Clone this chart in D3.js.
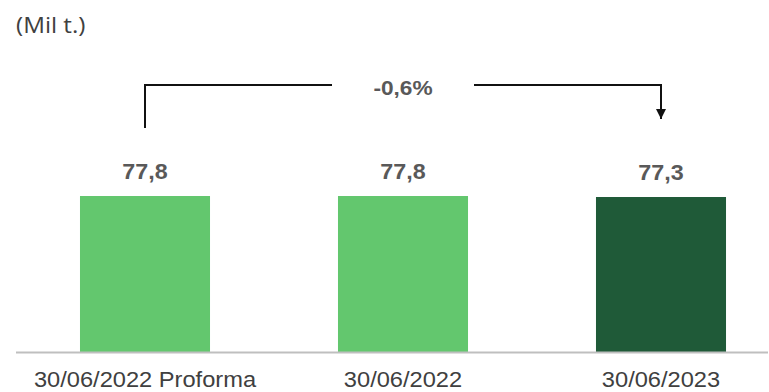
<!DOCTYPE html>
<html>
<head>
<meta charset="utf-8">
<script src="https://cdn.jsdelivr.net/npm/d3@7"></script>
<style>
  html, body { margin: 0; padding: 0; background: #fff; }
  svg { display: block; }
</style>
</head>
<body>
<svg id="chart" width="769" height="392"></svg>
<script>
// Stock volume by reference date (thousand tonnes)
const categories = ["30/06/2022 Proforma", "30/06/2022", "30/06/2023"];
const values = [77.8, 77.8, 77.3];
const valueLabels = ["77,8", "77,8", "77,3"];
const barColors = ["#63c76e", "#63c76e", "#1f5a38"];
const unitLabel = "(Mil t.)";
const changeLabel = "-0,6%";

const svg = d3.select("#chart");

const baseline = 352;
const x = d3.scaleBand()
  .domain(categories)
  .range([16, 790])
  .paddingInner(0.496)
  .paddingOuter(0.248);

const y = d3.scaleLinear()
  .domain([0, 100])
  .range([baseline, baseline - 200.5]);

const textGray = "#595959";

// Unit caption
svg.append("text")
  .attr("transform", "translate(16,33) scale(1.1,1)")
  .attr("font-family", "'Open Sans', sans-serif")
  .attr("font-size", 22)
  .attr("fill", "#404040")
  .text(unitLabel);

// Bars
svg.selectAll("rect.bar")
  .data(categories)
  .join("rect")
  .attr("class", "bar")
  .attr("x", d => x(d))
  .attr("width", x.bandwidth())
  .attr("y", (d, i) => y(values[i]))
  .attr("height", (d, i) => baseline - y(values[i]))
  .attr("fill", (d, i) => barColors[i]);

// Baseline axis
svg.append("line")
  .attr("x1", 16).attr("x2", 768)
  .attr("y1", baseline + 0.5).attr("y2", baseline + 0.5)
  .attr("stroke", "#bfbfbf").attr("stroke-width", 2);

// Category labels
svg.selectAll("text.cat")
  .data(categories)
  .join("text")
  .attr("class", "cat")
  .attr("transform", d => `translate(${x(d) + x.bandwidth() / 2},387) scale(1.1,1)`)
  .attr("text-anchor", "middle")
  .attr("font-family", "'Liberation Sans', Arial, sans-serif")
  .attr("font-size", 21.5)
  .attr("fill", "#404040")
  .text(d => d);

// Value labels
svg.selectAll("text.val")
  .data(categories)
  .join("text")
  .attr("class", "val")
  .attr("transform", (d, i) => `translate(${x(d) + x.bandwidth() / 2},${y(values[i]) - 17.5}) scale(1.06,1)`)
  .attr("text-anchor", "middle")
  .attr("font-family", "'Liberation Sans', Arial, sans-serif")
  .attr("font-weight", "bold")
  .attr("font-size", 22)
  .attr("fill", textGray)
  .text((d, i) => valueLabels[i]);

// Change bracket from first to last bar
const cx0 = x(categories[0]) + x.bandwidth() / 2;
const cx2 = x(categories[2]) + x.bandwidth() / 2;
const cxMid = x(categories[1]) + x.bandwidth() / 2;
const bracketY = 85;
const gapHalf = 71;

svg.append("defs").append("marker")
  .attr("id", "arrow")
  .attr("viewBox", "0 0 10 10")
  .attr("refX", 10).attr("refY", 5)
  .attr("markerWidth", 5).attr("markerHeight", 5)
  .attr("markerUnits", "strokeWidth")
  .attr("orient", "auto")
  .append("path")
  .attr("d", "M0,0 L10,5 L0,10 Z")
  .attr("fill", "#111");

svg.append("path")
  .attr("d", `M${cx0},128 V${bracketY} H${cxMid - gapHalf}`)
  .attr("fill", "none")
  .attr("stroke", "#111")
  .attr("stroke-width", 2);

svg.append("path")
  .attr("d", `M${cxMid + gapHalf},${bracketY} H${cx2} V119`)
  .attr("fill", "none")
  .attr("stroke", "#111")
  .attr("stroke-width", 2)
  .attr("marker-end", "url(#arrow)");

svg.append("text")
  .attr("transform", `translate(${cxMid},95) scale(1.08,1)`)
  .attr("text-anchor", "middle")
  .attr("font-family", "'Liberation Sans', Arial, sans-serif")
  .attr("font-weight", "bold")
  .attr("font-size", 21)
  .attr("fill", textGray)
  .text(changeLabel);
</script>
</body>
</html>
